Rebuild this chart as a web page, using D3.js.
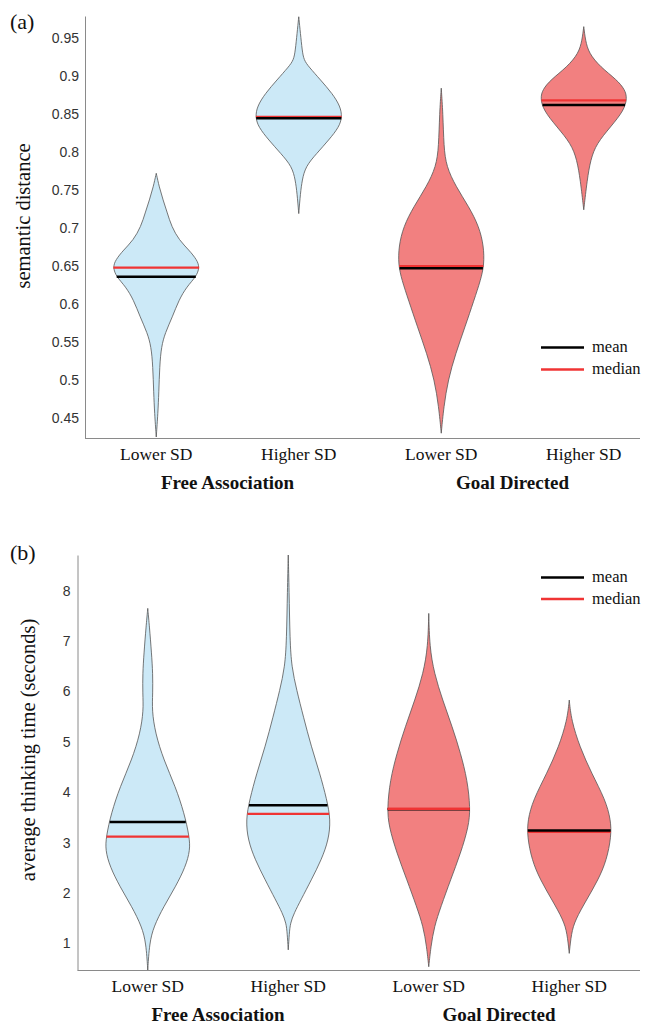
<!DOCTYPE html>
<html>
<head>
<meta charset="utf-8">
<script src="https://cdn.jsdelivr.net/npm/d3@7"></script>
<style>
html,body{margin:0;padding:0;background:#fff;}
svg{display:block;}
</style>
</head>
<body>
<svg id="chart" width="647" height="1027"></svg>
<script>
// ---------- DATA ----------
const categories = ["Lower SD", "Higher SD", "Lower SD", "Higher SD"];
const groups = ["Free Association", "Goal Directed"];
const conditionOfViolin = [0, 0, 1, 1];

// Panel (a): semantic distance
const semTicks = [0.45, 0.5, 0.55, 0.6, 0.65, 0.7, 0.75, 0.8, 0.85, 0.9, 0.95];
const semMeans = [0.636, 0.8445, 0.647, 0.862];
const semMedians = [0.648, 0.8464, 0.650, 0.868];
// density profiles: [value, relative density]
const semFALower = [[0.772,0],[0.754,0.07],[0.737,0.16],[0.720,0.26],[0.702,0.36],[0.684,0.54],[0.671,0.77],[0.658,0.96],[0.648,1.02],[0.636,0.94],[0.623,0.72],[0.605,0.53],[0.583,0.38],[0.562,0.21],[0.544,0.12],[0.518,0.08],[0.483,0.06],[0.457,0.04],[0.425,0]];
const semFAHigher = [[0.978,0],[0.956,0.04],[0.934,0.08],[0.921,0.12],[0.912,0.24],[0.895,0.51],[0.877,0.79],[0.860,0.98],[0.846,1.02],[0.833,0.95],[0.816,0.71],[0.798,0.42],[0.781,0.16],[0.763,0.08],[0.746,0.04],[0.719,0]];
const semGDLower = [[0.884,0],[0.851,0.04],[0.807,0.06],[0.781,0.12],[0.755,0.34],[0.728,0.65],[0.702,0.89],[0.676,1.0],[0.652,1.01],[0.632,0.93],[0.605,0.77],[0.570,0.56],[0.535,0.34],[0.500,0.16],[0.465,0.06],[0.430,0]];
const semGDHigher = [[0.965,0],[0.947,0.04],[0.930,0.12],[0.912,0.39],[0.895,0.78],[0.882,0.97],[0.871,1.02],[0.855,0.95],[0.833,0.63],[0.811,0.30],[0.790,0.16],[0.763,0.08],[0.724,0]];

// Panel (b): average thinking time
const timeTicks = [1, 2, 3, 4, 5, 6, 7, 8];
const timeMeans = [3.41, 3.74, 3.66, 3.24];
const timeMedians = [3.12, 3.57, 3.67, 3.21];
const timeFALower = [[7.65,0],[7.29,0.04],[6.76,0.09],[6.36,0.12],[5.96,0.12],[5.63,0.10],[5.17,0.18],[4.64,0.38],[4.11,0.66],[3.58,0.87],[3.12,0.99],[2.85,1.01],[2.52,0.90],[2.12,0.66],[1.73,0.38],[1.33,0.14],[1.0,0.04],[0.47,0]];
const timeFAHigher = [[8.71,0],[8.01,0.02],[7.02,0.04],[6.49,0.08],[6.03,0.20],[5.5,0.36],[4.9,0.55],[4.38,0.75],[3.85,0.92],[3.45,1.01],[3.05,0.96],[2.66,0.79],[2.26,0.55],[1.86,0.30],[1.6,0.14],[1.4,0.05],[1.2,0.025],[0.87,0]];
const timeGDLower = [[7.55,0],[6.89,0.02],[6.36,0.13],[5.83,0.33],[5.3,0.56],[4.77,0.76],[4.24,0.92],[3.68,0.99],[3.32,0.95],[2.79,0.76],[2.26,0.52],[1.73,0.29],[1.33,0.13],[0.93,0.05],[0.535,0]];
const timeGDHigher = [[5.83,0],[5.43,0.05],[4.9,0.25],[4.38,0.53],[3.85,0.86],[3.45,0.99],[3.12,1.0],[2.65,0.89],[2.26,0.69],[1.86,0.41],[1.46,0.14],[1.2,0.05],[0.8,0]];

const legendLabels = ["mean", "median"];

// ---------- STYLE ----------
const fills = ["#cce9f7", "#f28080"];
const serif = "'Liberation Serif','Times New Roman',serif";
const sans = "'Liberation Sans',Arial,sans-serif";

const svg = d3.select("#chart");

function widthAt(profile, v) {
  for (let i = 0; i < profile.length - 1; i++) {
    const a = profile[i], b = profile[i + 1];
    if (v <= a[0] && v >= b[0]) {
      const t = (a[0] - v) / (a[0] - b[0]);
      return a[1] + t * (b[1] - a[1]);
    }
  }
  return 0;
}

function drawPanel(cfg) {
  const g = svg.append("g");
  const y = d3.scaleLinear().domain(cfg.yDomain).range([cfg.bottom, cfg.top]);
  const x = d3.scalePoint().domain(d3.range(categories.length)).range(cfg.xRange).padding(0.5);
  const w = d3.scaleLinear().domain([0, 1]).range([0, cfg.maxHalf]);
  const x0 = cfg.xRange[0];

  // axes
  const yAxis = d3.axisLeft(y).tickValues(cfg.ticks).tickSize(0).tickPadding(cfg.tickPad)
    .tickFormat(d => String(+d.toFixed(2)));
  const ya = g.append("g").attr("transform", `translate(${x0},0)`).call(yAxis);
  ya.select(".domain").attr("stroke", "#8a8a8a").attr("stroke-width", 1);
  ya.selectAll("text").attr("font-family", sans).attr("font-size", 14).attr("fill", "#333");

  g.append("line").attr("x1", x0).attr("x2", 640).attr("y1", cfg.bottom + 0.5).attr("y2", cfg.bottom + 0.5)
    .attr("stroke", "#8a8a8a").attr("stroke-width", 1);

  // violins
  const area = d3.area()
    .curve(d3.curveBasis)
    .y(d => y(d[0]));
  cfg.profiles.forEach((p, i) => {
    const cx = x(i);
    g.append("path")
      .datum(p)
      .attr("d", area.x0(d => cx - w(d[1])).x1(d => cx + w(d[1])))
      .attr("fill", fills[conditionOfViolin[i]])
      .attr("stroke", "#555")
      .attr("stroke-width", 0.8);
  });
  // mean & median lines
  cfg.profiles.forEach((p, i) => {
    const cx = x(i);
    const wm = w(widthAt(p, cfg.means[i])) * 0.99;
    const wd = w(widthAt(p, cfg.medians[i])) * 0.99;
    g.append("line").attr("x1", cx - wd).attr("x2", cx + wd)
      .attr("y1", y(cfg.medians[i])).attr("y2", y(cfg.medians[i]))
      .attr("stroke", "#f03434").attr("stroke-width", 2.2);
    g.append("line").attr("x1", cx - wm).attr("x2", cx + wm)
      .attr("y1", y(cfg.means[i])).attr("y2", y(cfg.means[i]))
      .attr("stroke", "#000").attr("stroke-width", 2.5);
  });
  if (cfg.medianOnTop) {
    cfg.medianOnTop.forEach(i => {
      const cx = x(i);
      const wd = w(widthAt(cfg.profiles[i], cfg.medians[i])) * 0.99;
      g.append("line").attr("x1", cx - wd).attr("x2", cx + wd)
        .attr("y1", y(cfg.medians[i])).attr("y2", y(cfg.medians[i]))
        .attr("stroke", "#f03434").attr("stroke-width", 2.2);
    });
  }

  // category labels
  categories.forEach((c, i) => {
    g.append("text").attr("x", x(i)).attr("y", cfg.bottom + 22)
      .attr("text-anchor", "middle").attr("font-family", serif).attr("font-size", 17.5)
      .attr("fill", "#111").text(c);
  });
  groups.forEach((gr, k) => {
    const cx = (x(2 * k) + x(2 * k + 1)) / 2;
    g.append("text").attr("x", cx).attr("y", cfg.bottom + 51)
      .attr("text-anchor", "middle").attr("font-family", serif).attr("font-size", 19)
      .attr("font-weight", "bold").attr("fill", "#111").text(gr);
  });

  // y title
  g.append("text")
    .attr("transform", `translate(${cfg.titleX},${cfg.titleY}) rotate(-90)`)
    .attr("text-anchor", "middle").attr("font-family", serif).attr("font-size", 20.5)
    .attr("fill", "#111").text(cfg.title);

  // panel letter
  g.append("text").attr("x", 10).attr("y", cfg.letterY)
    .attr("font-family", serif).attr("font-size", 22).attr("fill", "#111").text(cfg.letter);

  // legend
  const colors = ["#000", "#f03434"];
  legendLabels.forEach((lab, k) => {
    const ly = cfg.legendY[k];
    g.append("line").attr("x1", 541).attr("x2", 584).attr("y1", ly).attr("y2", ly)
      .attr("stroke", colors[k]).attr("stroke-width", 2.4);
    g.append("text").attr("x", 592).attr("y", ly + 4.5)
      .attr("font-family", serif).attr("font-size", 16.5).attr("fill", "#111").text(lab);
  });
}

drawPanel({
  yDomain: [0.4237, 0.979], top: 16, bottom: 438, xRange: [85, 655], maxHalf: 42.5,
  ticks: semTicks, tickPad: 6, means: semMeans, medians: semMedians,
  profiles: [semFALower, semFAHigher, semGDLower, semGDHigher],
  title: "semantic distance", titleX: 30, titleY: 216, letter: "(a)", letterY: 29,
  legendY: [347.5, 369.5]
});

drawPanel({
  yDomain: [0.47, 8.71], top: 555, bottom: 970, xRange: [77.5, 639.5], maxHalf: 42,
  ticks: timeTicks, tickPad: 7, means: timeMeans, medians: timeMedians,
  profiles: [timeFALower, timeFAHigher, timeGDLower, timeGDHigher],
  medianOnTop: [2],
  title: "average thinking time (seconds)", titleX: 35, titleY: 750, letter: "(b)", letterY: 560,
  legendY: [577.5, 599]
});
</script>
</body>
</html>
